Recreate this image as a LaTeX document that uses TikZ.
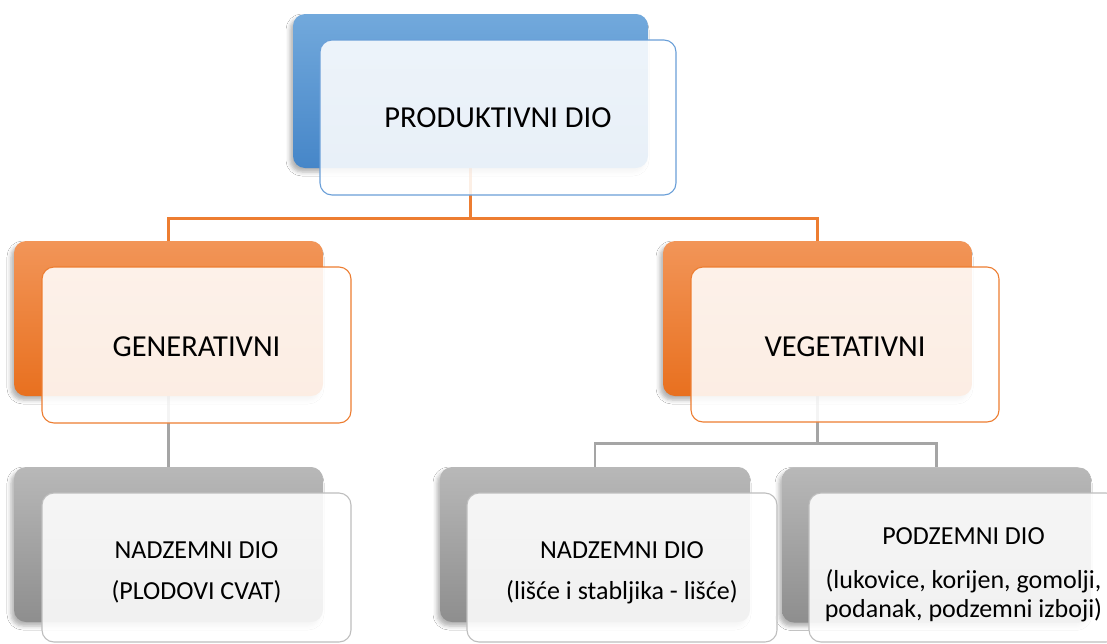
\documentclass[tikz,border=0pt]{standalone}
\usepackage{fontspec}
\setmainfont{Carlito}
\usetikzlibrary{shadows.blur,backgrounds}
\definecolor{bluetop}{RGB}{114,169,220}
\definecolor{bluebot}{RGB}{70,134,200}
\definecolor{blueline}{RGB}{106,159,216}
\definecolor{orgtop}{RGB}{242,149,88}
\definecolor{orgbot}{RGB}{232,112,31}
\definecolor{orgline}{RGB}{237,125,49}
\definecolor{graytop}{RGB}{184,184,184}
\definecolor{graybot}{RGB}{142,142,142}
\definecolor{grayline}{RGB}{165,165,165}
\definecolor{grayborder}{RGB}{190,190,190}
\tikzset{
  boxbase/.style={rectangle, rounded corners=12pt, inner sep=0pt},
  backshadow/.style={blur shadow={shadow xshift=-3pt, shadow yshift=-4pt, shadow blur radius=4pt, shadow opacity=30}},
  backblue/.style={boxbase, top color=bluetop, bottom color=bluebot, backshadow},
  backorg/.style={boxbase, top color=orgtop, bottom color=orgbot, backshadow},
  backgray/.style={boxbase, top color=graytop, bottom color=graybot, backshadow},
  frontbox/.style={boxbase, fill=white, fill opacity=0.88, line width=1.1pt},
  frontblue/.style={frontbox, draw=blueline},
  frontorg/.style={frontbox, draw=orgline},
  frontgray/.style={frontbox, draw=grayborder},
  bigtxt/.style={text=black, inner sep=0pt, font=\fontsize{30.5}{36}\selectfont},
  smalltxt/.style={text=black, inner sep=0pt, align=center, font=\fontsize{26}{29}\selectfont},
  oconn/.style={draw=orgline, line width=2.6pt},
  gconn/.style={draw=grayline, line width=2.6pt},
}
\begin{document}
\begin{tikzpicture}[x=1pt,y=-1pt]
\useasboundingbox (0,0) rectangle (1107,643);
% back boxes
\node[backblue, minimum width=355, minimum height=154] (pb) at (470.5,91) {};
\node[backorg, minimum width=309, minimum height=155] (gb) at (168.5,318.5) {};
\node[backorg, minimum width=309, minimum height=155] (vb) at (817.5,318.5) {};
\node[backgray, minimum width=309, minimum height=155] (lb) at (168.5,544.5) {};
\node[backgray, minimum width=310, minimum height=155] (mb) at (595,544.5) {};
\node[backgray, minimum width=309, minimum height=155] (rb) at (936.5,545) {};
% connectors (behind the boxes)
\begin{scope}[on background layer]
\fill[white] (0,0) rectangle (1107,643);
\draw[oconn] (pb.south) -- ++(0,50) -| (gb.north);
\draw[oconn] (pb.south) -- ++(0,50) -| (vb.north);
\draw[gconn] (gb.south) -- (lb.north);
\draw[gconn] (vb.south) -- ++(0,47) -| (mb.north);
\draw[gconn] (vb.south) -- ++(0,47) -| (rb.north);
\end{scope}
% front boxes
\node[frontblue, minimum width=356, minimum height=155] (pf) at (498,117.5) {};
\node[frontorg, minimum width=309, minimum height=156] (gf) at (196.5,345) {};
\node[frontorg, minimum width=308, minimum height=155] (vf) at (845,344.5) {};
\node[frontgray, minimum width=309, minimum height=149] (lf) at (196.5,567.5) {};
\node[frontgray, minimum width=310, minimum height=149] (mf) at (622,567.5) {};
\node[frontgray, minimum width=309, minimum height=149] (rf) at (963.5,567.5) {};
% texts
\node[bigtxt] (pt) at (pf.center) {PRODUKTIVNI DIO};
\node[bigtxt] (gt) at ([yshift=-2pt]gf.center) {GENERATIVNI};
\node[bigtxt] (vt) at ([yshift=-2pt]vf.center) {VEGETATIVNI};
\node[smalltxt] (lt) at ([yshift=-5pt]lf.center) {NADZEMNI DIO\\[12pt](PLODOVI CVAT)};
\node[smalltxt] (mt) at ([yshift=-5pt]mf.center) {NADZEMNI DIO\\[12pt](lišće i stabljika - lišće)};
\node[smalltxt] (rt) at ([yshift=-7pt]rf.center) {PODZEMNI DIO\\[15pt](lukovice, korijen, gomolji,\\podanak, podzemni izboji)};
\end{tikzpicture}
\end{document}
